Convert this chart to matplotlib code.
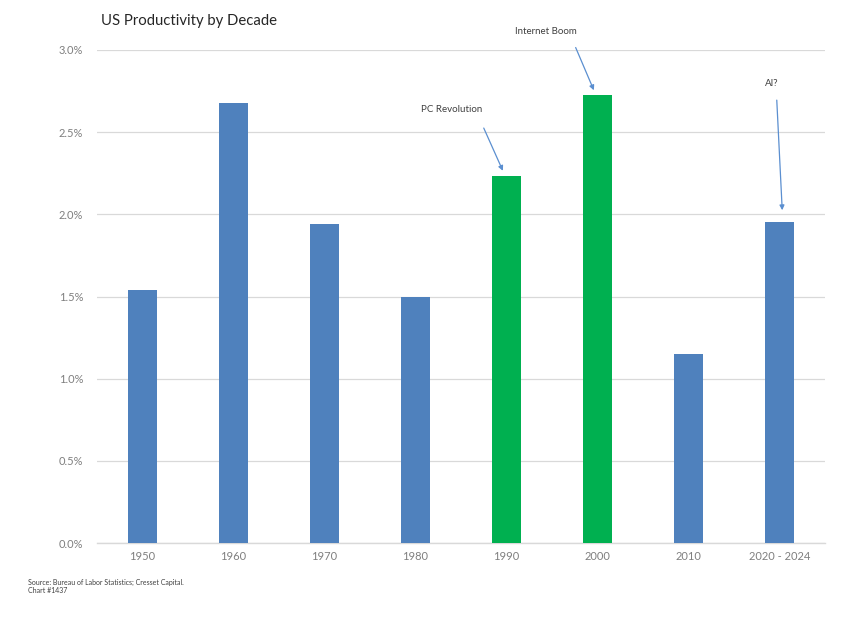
import matplotlib
matplotlib.use("Agg")
import matplotlib.pyplot as plt
from matplotlib.ticker import FuncFormatter, MultipleLocator

categories = ["1950", "1960", "1970", "1980", "1990", "2000", "2010", "2020 - 2024"]
values = [1.54, 2.68, 1.94, 1.50, 2.235, 2.725, 1.15, 1.955]
highlight = [False, False, False, False, True, True, False, False]
annotations = {4: "PC Revolution", 5: "Internet Boom", 7: "AI?"}

BLUE = "#4F81BD"
GREEN = "#00B050"
GRAY = "#7F7F7F"

plt.rcParams['font.family'] = ['Lato', 'DejaVu Sans']

fig = plt.figure(figsize=(8.6, 6.25), dpi=100)
ax = fig.add_axes([0.1128, 0.1312, 0.8465, 0.7888])

x = list(range(len(categories)))
colors = [GREEN if h else BLUE for h in highlight]
ax.bar(x, values, width=0.31, color=colors, zorder=3)

ax.set_xlim(-0.5, len(categories) - 0.5)
ax.set_ylim(0, 3.0)
ax.yaxis.set_major_locator(MultipleLocator(0.5))
ax.yaxis.set_major_formatter(FuncFormatter(lambda v, p: f"{v:.1f}%"))
ax.set_xticks(x)
ax.set_xticklabels(categories)
ax.grid(axis='y', color="#D9D9D9", linewidth=0.9, zorder=0)
for s in ["top", "right", "left"]:
    ax.spines[s].set_visible(False)
ax.spines["bottom"].set_color("#D9D9D9")
ax.spines["bottom"].set_linewidth(1.0)
ax.tick_params(axis='both', length=0, labelsize=8, labelcolor=GRAY)
ax.tick_params(axis='x', pad=6)
ax.tick_params(axis='y', pad=10)

# annotation arrows (offsets relative to each bar)
ann_specs = {
    4: dict(tip=(-0.04, 0.03), tail=(-0.25, 0.29), text=(-0.6, 0.40)),
    5: dict(tip=(-0.04, 0.03), tail=(-0.24, 0.29), text=(-0.57, 0.39)),
    7: dict(tip=(0.03, 0.07), tail=(-0.03, 0.74), text=(-0.08, 0.84)),
}
for i, label in annotations.items():
    sp = ann_specs[i]
    v = values[i]
    ax.annotate("", xy=(i + sp["tip"][0], v + sp["tip"][1]),
                xytext=(i + sp["tail"][0], v + sp["tail"][1]),
                arrowprops=dict(arrowstyle="-|>", color="#5B8FD0", lw=0.9,
                                mutation_scale=7, shrinkA=0, shrinkB=0),
                annotation_clip=False, zorder=4)
    ax.text(i + sp["text"][0], v + sp["text"][1], label, fontsize=7,
            color="#404040", ha="center", va="center", clip_on=False)

fig.text(0.117, 0.966, "US Productivity by Decade", fontsize=10.7, color="#262626",
         ha="left", va="center")
fig.text(0.033, 0.062, "Source: Bureau of Labor Statistics; Cresset Capital.\nChart #1437",
         fontsize=5, color="#404040", ha="left", va="center", linespacing=1.1)

fig.savefig("out.png", dpi=100)
